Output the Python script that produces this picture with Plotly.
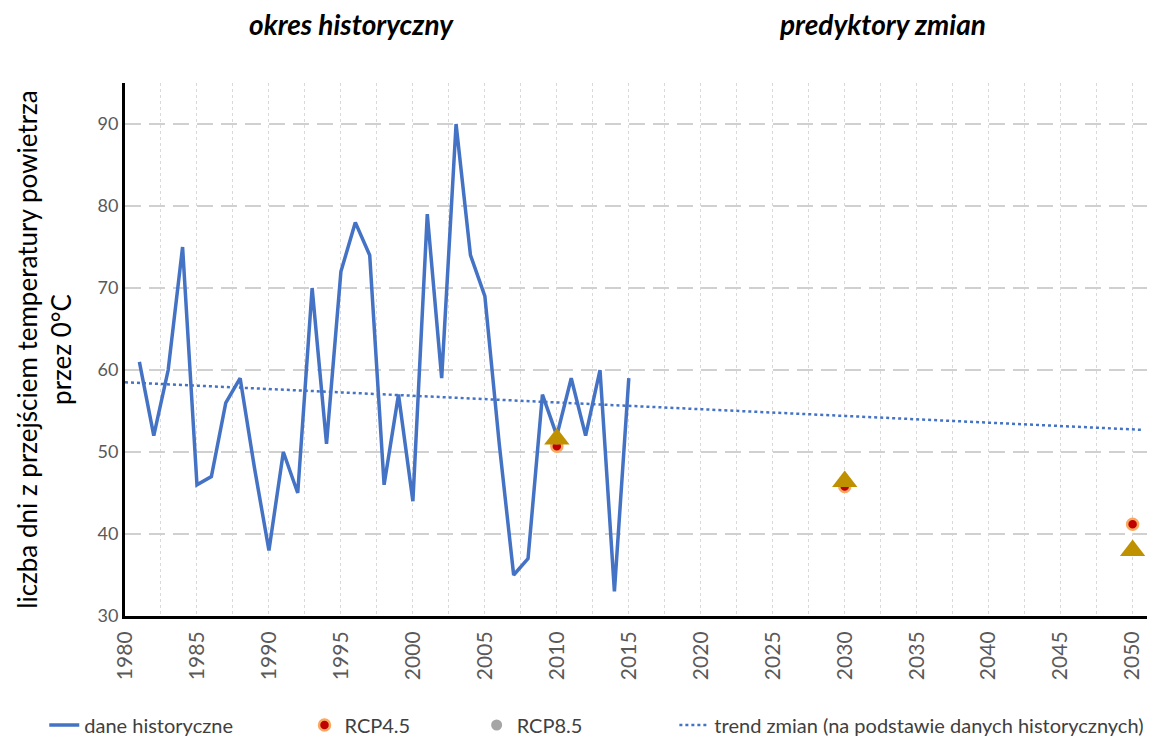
import plotly.graph_objects as go

years = list(range(1981, 2016))
hist_values = [61, 52, 60, 75, 46, 47, 56, 59, 48, 38,
               50, 45, 70, 51, 72, 78, 74, 46, 57, 44,
               79, 59, 90, 74, 69, 51, 35, 37, 57, 52,
               59, 52, 60, 33, 59]

proj_years = [2010, 2030, 2050]
rcp45_values = [50.7, 45.8, 41.2]
rcp85_values = [51.6, 46.4, 38.0]

trend_years = [1980, 2050.7]
trend_values = [58.5, 52.7]

x_ticks = list(range(1980, 2051, 5))
y_ticks = list(range(30, 91, 10))

FONT = "Lato"
TICK_COLOR = "#595959"
NB = "\u00a0"

fig = go.Figure()

fig.add_trace(go.Scatter(
    x=years, y=hist_values, mode="lines", name="dane historyczne" + NB * 13,
    line=dict(color="#4472C4", width=3.5),
))
fig.add_trace(go.Scatter(
    x=proj_years, y=rcp45_values, mode="markers", name="RCP4.5" + NB * 12,
    marker=dict(color="#C00000", size=11, line=dict(color="#F8A860", width=2.5)),
))
fig.add_trace(go.Scatter(
    x=proj_years, y=rcp85_values, mode="markers", name="RCP8.5" + NB * 17,
    marker=dict(color="#A5A5A5", size=11),
))
fig.add_trace(go.Scatter(
    x=proj_years, y=rcp85_values, mode="markers", showlegend=False,
    marker=dict(color="#BF9000", size=22, symbol="triangle-up"),
))
fig.add_trace(go.Scatter(
    x=trend_years, y=trend_values, mode="lines",
    name="trend zmian (na podstawie danych historycznych)",
    line=dict(color="#4472C4", width=2.5, dash="dot"),
))

fig.update_layout(
    width=1152, height=729,
    margin=dict(l=117, r=13, t=75, b=121, autoexpand=False),
    plot_bgcolor="white", paper_bgcolor="white",
    font=dict(family=FONT, size=17, color=TICK_COLOR),
    showlegend=True,
    legend=dict(orientation="h", x=-0.079, xanchor="left",
                y=-0.2045, yanchor="middle", bgcolor="rgba(0,0,0,0)",
                font=dict(family=FONT, size=20, color="#404040"),
                traceorder="normal"),
    annotations=[
        dict(text="<b><i>okres historyczny</i></b>", x=0.222, y=1.111,
             xref="paper", yref="paper", showarrow=False, xanchor="center", yanchor="middle",
             font=dict(family=FONT, size=28, color="black")),
        dict(text="<b><i>predyktory zmian</i></b>", x=0.741, y=1.111,
             xref="paper", yref="paper", showarrow=False, xanchor="center", yanchor="middle",
             font=dict(family=FONT, size=28, color="black")),
        dict(text="liczba dni z przejściem temperatury powietrza<br>przez 0°C",
             x=-0.080, y=0.5, xref="paper", yref="paper", showarrow=False,
             xanchor="center", yanchor="middle", textangle=-90,
             font=dict(family=FONT, size=26, color="black")),
    ],
)

fig.update_xaxes(
    range=[1980, 2051], tickvals=x_ticks, ticktext=[str(t) for t in x_ticks],
    tickangle=-90, tickfont=dict(family=FONT, size=21, color=TICK_COLOR),
    ticklabelstandoff=4,
    showline=True, linecolor="black", linewidth=3, automargin=False,
    showgrid=False, zeroline=False, ticks="",
    minor=dict(dtick=2.5, tick0=1980, showgrid=True, gridcolor="#D9D9D9",
               griddash="dot", gridwidth=1),
)
fig.update_yaxes(
    range=[30, 95], tickvals=y_ticks, ticktext=[str(t) for t in y_ticks],
    tickfont=dict(family=FONT, size=18, color=TICK_COLOR),
    ticklabelstandoff=0,
    showline=True, linecolor="black", linewidth=3, automargin=False,
    showgrid=True, gridcolor="#D0D0D0", griddash="16px,8px", gridwidth=2,
    zeroline=False, ticks="",
)

fig.write_html("out.html")
